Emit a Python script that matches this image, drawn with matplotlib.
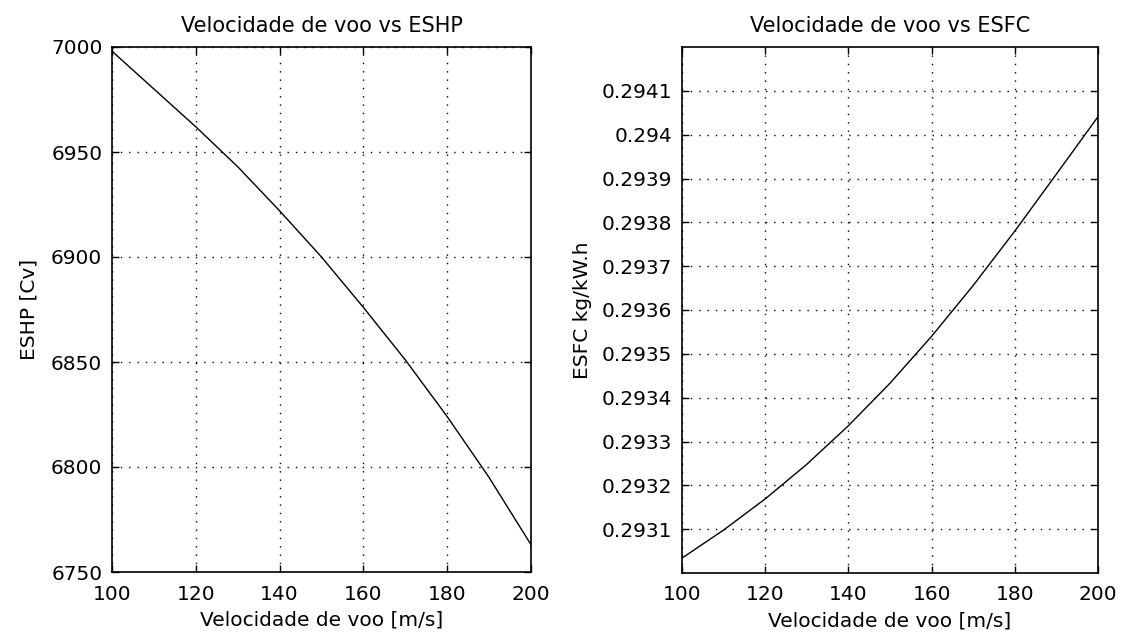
import matplotlib
matplotlib.use("Agg")
import matplotlib.pyplot as plt

plt.rcParams['font.family'] = ['DejaVu Sans']

velocidade = [100, 110, 120, 130, 140, 150, 160, 170, 180, 190, 200]
eshp = [6998, 6980, 6962, 6943, 6922, 6900, 6876, 6851, 6824, 6795, 6763]
esfc = [0.293034, 0.293098, 0.293169, 0.293248, 0.293336, 0.293433,
        0.293540, 0.293656, 0.293780, 0.293910, 0.294041]

x_ticks = [100, 120, 140, 160, 180, 200]
eshp_ticks = [6750, 6800, 6850, 6900, 6950, 7000]
esfc_ticks = [0.2931, 0.2932, 0.2933, 0.2934, 0.2935, 0.2936, 0.2937,
              0.2938, 0.2939, 0.294, 0.2941]
esfc_labels = ['0.2931', '0.2932', '0.2933', '0.2934', '0.2935', '0.2936',
               '0.2937', '0.2938', '0.2939', '0.294', '0.2941']

fs = 14.5
fs_title = 15
fig = plt.figure(figsize=(11.24, 6.41), dpi=100)
ax1 = fig.add_axes([112/1124, 1-572/641, 419/1124, 525/641])
ax2 = fig.add_axes([682/1124, 1-573/641, 416/1124, 526/641])

def style(ax):
    ax.grid(True, linestyle=(0, (1, 5)), color='black', linewidth=1.0)
    ax.tick_params(direction='in', length=5, width=1, top=True, right=True,
                   labelsize=fs, colors='black')
    ax.tick_params(axis='x', pad=9)
    ax.tick_params(axis='y', pad=7)
    for s in ax.spines.values():
        s.set_linewidth(1.2)
    ax.set_xlim(100, 200)
    ax.set_xticks(x_ticks)

ax1.plot(velocidade, eshp, color='black', linewidth=1.0)
style(ax1)
ax1.set_ylim(6750, 7000)
ax1.set_yticks(eshp_ticks)
ax1.set_title('Velocidade de voo vs ESHP', fontsize=fs_title, pad=11)
ax1.set_xlabel('Velocidade de voo [m/s]', fontsize=fs, labelpad=5)
ax1.set_ylabel('ESHP [Cv]', fontsize=fs, labelpad=9)

ax2.plot(velocidade, esfc, color='black', linewidth=1.0)
style(ax2)
ax2.set_ylim(0.2930, 0.29420)
ax2.set_yticks(esfc_ticks)
ax2.set_yticklabels(esfc_labels)
ax2.set_title('Velocidade de voo vs ESFC', fontsize=fs_title, pad=11)
ax2.set_xlabel('Velocidade de voo [m/s]', fontsize=fs, labelpad=5)
ax2.set_ylabel('ESFC kg/kW.h', fontsize=fs, labelpad=7)

fig.savefig('out.png', dpi=100)
